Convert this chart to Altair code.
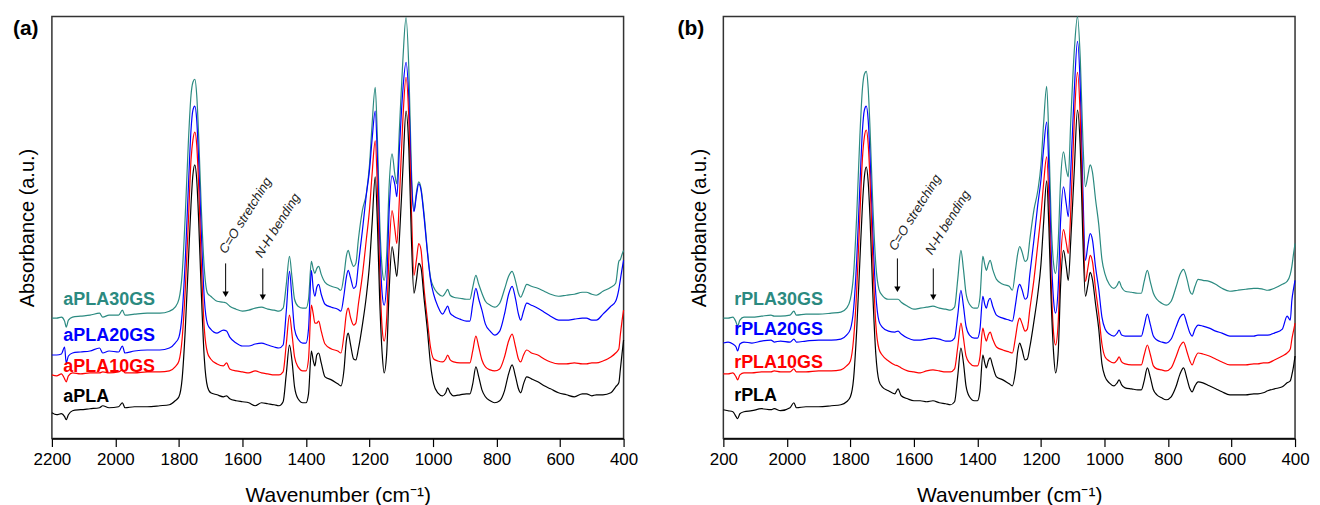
import altair as alt
import pandas as pd

# shared wavenumber grid (cm-1)
wavenumber = [2200, 2185, 2170, 2160, 2155, 2148, 2135, 2110, 2080, 2050,
              2040, 2020, 1990, 1978, 1970, 1940, 1900, 1860, 1830, 1812,
              1800, 1790, 1780, 1770, 1762, 1756, 1750, 1744, 1738, 1730,
              1720, 1710, 1700, 1680, 1660, 1650, 1640, 1620, 1600, 1580,
              1560, 1540, 1520, 1500, 1485, 1472, 1462, 1452, 1444, 1436,
              1425, 1410, 1400, 1392, 1383, 1377, 1372, 1366, 1360, 1352,
              1340, 1320, 1300, 1290, 1280, 1273, 1267, 1260, 1250, 1243,
              1235, 1222, 1210, 1200, 1192, 1182, 1175, 1168, 1160, 1154,
              1146, 1138, 1129, 1120, 1114, 1106, 1095, 1085, 1076, 1068,
              1060, 1052, 1045, 1038, 1028, 1018, 1008, 998, 985, 970,
              960, 954, 946, 935, 915, 895, 884, 875, 865, 856,
              846, 835, 820, 806, 790, 775, 762, 751, 740, 731,
              724, 715, 705, 690, 670, 650, 630, 605, 580, 555,
              530, 517, 500, 486, 465, 440, 425, 415, 410, 405,
              400]

# ---- panel (a) absorbance (a.u., offset) ----
aPLA = [26, 24, 25, 22, 19, 24, 28, 29, 30, 31,
        33, 31, 32, 36, 31, 32, 32, 33, 34, 38,
        42, 60, 110, 180, 235, 265, 275, 260, 220, 150,
        80, 52, 46, 44, 42, 43, 40, 38, 37, 36,
        33, 36, 35, 34, 33, 37, 65, 94, 78, 52,
        40, 36, 36, 45, 88, 78, 73, 84, 86, 76,
        62, 59, 55, 53, 70, 98, 106, 95, 80, 79,
        90, 115, 143, 175, 215, 263, 215, 140, 85, 66,
        85, 150, 193, 175, 163, 200, 270, 329, 290, 200,
        146, 160, 176, 172, 140, 110, 75, 55, 46, 43,
        46, 51, 46, 43, 44, 45, 45, 55, 72, 62,
        49, 42, 38, 36, 38, 48, 65, 74, 62, 50,
        46, 55, 62, 60, 57, 53, 50, 46, 44, 42,
        45, 45, 43, 44, 44, 46, 52, 56, 70, 85,
        99]
aPLA10GS = [64, 63, 65, 60, 57, 63, 66, 65, 66, 66,
            67, 66, 67, 69, 66, 66, 67, 67, 68, 72,
            78, 100, 150, 220, 280, 300, 308, 295, 255, 180,
            110, 86, 80, 75, 73, 76, 70, 68, 67, 66,
            68, 66, 65, 64, 64, 67, 95, 124, 105, 82,
            72, 68, 68, 80, 134, 125, 116, 116, 118, 108,
            95, 90, 88, 86, 105, 125, 131, 122, 114, 116,
            135, 165, 200, 230, 265, 299, 250, 170, 110, 98,
            120, 190, 229, 210, 196, 240, 320, 363, 320, 230,
            164, 180, 196, 190, 150, 120, 92, 80, 78, 77,
            80, 84, 79, 77, 76, 76, 76, 88, 103, 92,
            79, 72, 69, 68, 70, 82, 98, 105, 92, 80,
            77, 84, 89, 86, 84, 80, 77, 75, 75, 76,
            75, 75, 76, 76, 78, 82, 86, 90, 105, 118,
            129]
aPLA20GS = [84, 84, 85, 92, 76, 83, 86, 87, 88, 91,
            86, 88, 87, 93, 86, 88, 89, 89, 91, 96,
            102, 125, 180, 255, 310, 330, 334, 320, 280, 210,
            140, 115, 110, 106, 109, 108, 102, 96, 93, 93,
            95, 96, 94, 92, 91, 94, 128, 168, 140, 110,
            100, 96, 96, 110, 169, 150, 143, 152, 155, 145,
            135, 132, 130, 128, 145, 162, 169, 162, 151, 153,
            175, 210, 245, 270, 300, 329, 280, 200, 145, 134,
            155, 230, 264, 255, 243, 290, 350, 378, 340, 260,
            228, 245, 256, 250, 222, 188, 160, 145, 133, 125,
            130, 133, 126, 123, 120, 118, 118, 135, 151, 140,
            129, 115, 108, 104, 108, 125, 145, 153, 140, 125,
            119, 128, 136, 134, 131, 127, 123, 119, 119, 120,
            121, 121, 119, 119, 125, 133, 138, 150, 160, 170,
            179]
aPLA30GS = [121, 121, 122, 118, 112, 119, 122, 123, 124, 126,
            122, 124, 124, 129, 124, 125, 126, 126, 128, 132,
            140, 165, 225, 300, 345, 358, 361, 345, 305, 235,
            170, 146, 143, 138, 137, 136, 133, 130, 128, 129,
            131, 132, 130, 129, 128, 131, 155, 183, 162, 140,
            133, 131, 131, 140, 178, 170, 166, 171, 173, 165,
            157, 153, 151, 149, 165, 183, 189, 181, 173, 176,
            200, 230, 246, 275, 315, 353, 300, 220, 170, 159,
            185, 255, 286, 265, 256, 310, 380, 423, 370, 270,
            229, 248, 258, 252, 225, 190, 162, 152, 146, 143,
            147, 150, 144, 142, 141, 140, 140, 152, 164, 155,
            146, 138, 134, 132, 136, 150, 163, 168, 158, 146,
            142, 148, 155, 153, 151, 148, 145, 143, 144, 145,
            147, 147, 145, 144, 148, 152, 156, 178, 180, 185,
            189]

# ---- panel (b) ----
rPLA = [29, 28, 27, 22, 20, 25, 27, 28, 30, 29,
        30, 28, 31, 36, 31, 32, 32, 33, 34, 37,
        42, 60, 110, 180, 235, 263, 273, 258, 220, 150,
        85, 58, 52, 48, 45, 50, 43, 40, 38, 38,
        37, 38, 36, 35, 34, 37, 63, 91, 76, 53,
        42, 38, 38, 48, 84, 76, 71, 78, 81, 73,
        62, 59, 55, 53, 68, 88, 96, 90, 79, 80,
        92, 118, 145, 175, 215, 259, 212, 140, 85, 66,
        85, 155, 189, 172, 159, 200, 270, 330, 290, 200,
        143, 155, 167, 160, 135, 110, 75, 62, 56, 53,
        56, 59, 54, 51, 50, 49, 49, 58, 71, 62,
        49, 44, 41, 39, 42, 52, 65, 71, 60, 50,
        47, 53, 57, 56, 53, 50, 47, 44, 44, 44,
        45, 45, 46, 48, 50, 52, 56, 58, 64, 72,
        83]
rPLA10GS = [65, 65, 66, 62, 59, 64, 66, 66, 67, 67,
            68, 67, 67, 70, 67, 67, 68, 68, 69, 73,
            78, 100, 150, 225, 282, 303, 310, 296, 258, 185,
            115, 90, 84, 78, 74, 73, 71, 68, 67, 66,
            68, 69, 68, 67, 67, 70, 92, 116, 101, 83,
            76, 73, 73, 82, 111, 103, 98, 104, 107, 100,
            92, 89, 87, 86, 102, 116, 121, 116, 108, 110,
            130, 160, 195, 225, 255, 283, 240, 160, 105, 94,
            115, 180, 210, 196, 186, 230, 320, 368, 320, 225,
            158, 172, 184, 178, 150, 125, 95, 82, 78, 76,
            79, 82, 77, 75, 74, 74, 74, 84, 94, 85,
            73, 70, 69, 68, 71, 82, 93, 97, 87, 78,
            74, 81, 86, 85, 83, 80, 77, 74, 74, 74,
            75, 75, 76, 76, 79, 83, 86, 90, 100, 108,
            116]
rPLA20GS = [96, 97, 95, 92, 88, 95, 97, 96, 98, 99,
            97, 98, 97, 100, 97, 98, 99, 99, 100, 104,
            110, 130, 180, 255, 310, 330, 334, 320, 282, 210,
            145, 118, 112, 108, 107, 108, 105, 101, 99, 99,
            100, 101, 100, 98, 98, 101, 124, 149, 133, 113,
            104, 101, 101, 110, 143, 135, 131, 138, 141, 133,
            124, 121, 119, 118, 135, 150, 155, 150, 140, 142,
            165, 200, 235, 260, 290, 318, 270, 190, 138, 126,
            150, 220, 253, 235, 223, 270, 350, 399, 350, 250,
            179, 195, 206, 200, 172, 150, 122, 110, 105, 103,
            106, 109, 104, 103, 103, 103, 103, 113, 125, 115,
            103, 99, 97, 96, 100, 112, 122, 125, 115, 106,
            103, 110, 114, 113, 111, 108, 106, 103, 103, 103,
            103, 104, 104, 104, 106, 110, 123, 119, 139, 150,
            159]
rPLA30GS = [121, 121, 122, 117, 113, 119, 122, 122, 123, 124,
            123, 123, 124, 128, 124, 125, 125, 126, 127, 131,
            140, 165, 225, 305, 352, 366, 369, 352, 310, 240,
            175, 150, 144, 140, 140, 140, 137, 133, 130, 131,
            132, 133, 131, 130, 129, 132, 160, 189, 170, 146,
            135, 131, 131, 142, 183, 175, 169, 175, 179, 170,
            160, 155, 153, 149, 170, 186, 193, 188, 178, 180,
            200, 230, 249, 275, 315, 354, 300, 220, 175, 166,
            195, 260, 288, 270, 263, 320, 390, 424, 380, 300,
            253, 265, 275, 268, 240, 215, 180, 165, 155, 151,
            154, 158, 152, 148, 147, 146, 146, 158, 169, 158,
            146, 140, 136, 134, 138, 152, 165, 170, 160, 148,
            145, 153, 160, 159, 158, 155, 151, 148, 149, 150,
            151, 151, 150, 149, 151, 155, 158, 165, 173, 185,
            196]

names_a = ["aPLA30GS", "aPLA20GS", "aPLA10GS", "aPLA"]
names_b = ["rPLA30GS", "rPLA20GS", "rPLA10GS", "rPLA"]
colors = ["#2B8A80", "#0000FF", "#FF0000", "#000000"]

# series label positions (wavenumber, absorbance)
label_wn_a = [2164, 2164, 2164, 2164]
label_y_a = [139, 103, 72, 42]
label_wn_b = [2166, 2166, 2166, 2166]
label_y_b = [139, 109, 76, 43]

# annotation arrows: wavenumber, top, tip
arrow_wn_a = [1653, 1536]
arrow_top_a = [176, 171]
arrow_tip_a = [142, 139]
arrow_wn_b = [1652, 1539]
arrow_top_b = [181, 171]
arrow_tip_b = [147, 139]
annot_text = ["C=O stretching", "N-H bending"]
annot_wn_a = [1663, 1550]
annot_y_a = [187, 183]
annot_wn_b = [1669, 1554]
annot_y_b = [190, 186]

FONT = "Liberation Sans, Arial, sans-serif"


def panel(names, lists, lab_wn, lab_y, arr_wn, arr_top, arr_tip,
          ann_wn, ann_y, letter, letter_x, first_label):
    rows = []
    for name, vals in zip(names, lists):
        assert len(vals) == len(wavenumber), (name, len(vals))
        for w, v in zip(wavenumber, vals):
            rows.append({"wn": w, "absb": v, "sample": name})
    df = pd.DataFrame(rows)

    color = alt.Color("sample:N", scale=alt.Scale(domain=names, range=colors), legend=None)

    label_expr = "datum.value % 200 === 0 ? datum.label : ''"
    if first_label is not None:
        label_expr = "datum.value === 2200 ? '" + first_label + "' : (" + label_expr + ")"

    x = alt.X("wn:Q",
              scale=alt.Scale(domain=[2200, 400], nice=False, zero=False),
              axis=alt.Axis(values=list(range(2200, 399, -100)), format="d",
                            labelExpr=label_expr, labelOverlap=False, labelFlush=False,
                            labelFontSize=17, labelPadding=5, labelColor="black",
                            tickSize={"condition": {"test": "datum.value % 200 === 0", "value": 8}, "value": 5},
                            tickColor="black", tickWidth=1.2,
                            domainColor="black", domainWidth=1.5, grid=False,
                            title="Wavenumber (cm⁻¹)", titleFontSize=21,
                            titleFontWeight="normal", titlePadding=17, titleColor="black"))
    y = alt.Y("absb:Q",
              scale=alt.Scale(domain=[0, 424], nice=False, zero=False),
              axis=alt.Axis(title="Absorbance (a.u.)", labels=False, ticks=False,
                            domain=False, grid=False, titleFontSize=20,
                            titleFontWeight="normal", titlePadding=14, titleColor="black"))

    lines = alt.Chart(df).mark_line(strokeWidth=1.2, interpolate="monotone").encode(
        x=x, y=y, color=color, detail="sample:N")

    ldf = pd.DataFrame({"wn": lab_wn, "absb": lab_y, "sample": names, "text": names})
    labels = alt.Chart(ldf).mark_text(align="left", baseline="middle", fontSize=18,
                                      fontWeight="bold", font=FONT).encode(
        x="wn:Q", y="absb:Q", text="text:N", color=color)

    adf = pd.DataFrame({"wn": arr_wn, "top": arr_top,
                        "tipline": [t + 4 for t in arr_tip],
                        "head": [t + 3 for t in arr_tip]})
    shafts = alt.Chart(adf).mark_rule(color="black", strokeWidth=1).encode(
        x="wn:Q", y="top:Q", y2="tipline:Q")
    heads = alt.Chart(adf).mark_point(shape="triangle-down", filled=True, color="black",
                                      size=40, opacity=1).encode(x="wn:Q", y="head:Q")

    tdf = pd.DataFrame({"wn": ann_wn, "absb": ann_y, "text": annot_text})
    annots = alt.Chart(tdf).mark_text(align="left", baseline="middle", angle=302,
                                      fontSize=13, fontStyle="italic", font=FONT,
                                      color="#222222").encode(
        x="wn:Q", y="absb:Q", text="text:N")

    letter_mark = alt.Chart(pd.DataFrame({"t": [letter]})).mark_text(
        align="left", baseline="middle", fontSize=21, fontWeight="bold", font=FONT,
        color="black").encode(x=alt.value(letter_x), y=alt.value(12), text="t:N")

    return alt.layer(lines, labels, shafts, heads, annots, letter_mark).properties(
        width=573, height=423)


pa = panel(names_a, [aPLA30GS, aPLA20GS, aPLA10GS, aPLA], label_wn_a, label_y_a,
           arrow_wn_a, arrow_top_a, arrow_tip_a, annot_wn_a, annot_y_a, "(a)", -39, None)
pb = panel(names_b, [rPLA30GS, rPLA20GS, rPLA10GS, rPLA], label_wn_b, label_y_b,
           arrow_wn_b, arrow_top_b, arrow_tip_b, annot_wn_b, annot_y_b, "(b)", -46, "200")

chart = alt.hconcat(pa, pb, spacing=38).properties(
    padding={"left": 4, "top": 4, "right": 2, "bottom": 0}
).configure(font=FONT).configure_view(stroke="#333333", strokeWidth=1.5)

chart.save("out.html", embed_options={"renderer": "svg", "actions": False})
